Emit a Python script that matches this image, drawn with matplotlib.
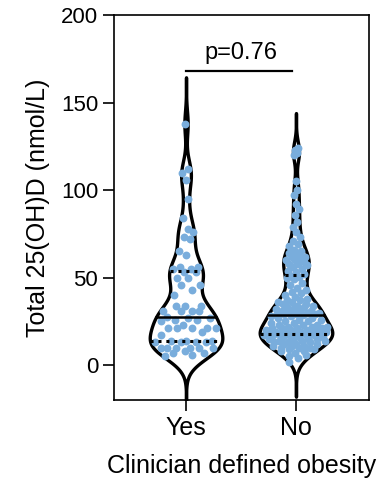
import numpy as np
import matplotlib.pyplot as plt
import matplotlib

matplotlib.rcParams.update({'font.family': 'Liberation Sans', 'font.size': 16})

groups = ["Yes", "No"]
yes_vals = [138, 112, 110, 106, 95, 84, 78, 76, 73, 72,
            65, 63, 56, 56, 55, 55, 53, 53, 50, 50,
            46, 46, 43, 40, 34, 34, 34, 31, 31, 31,
            31, 27.5, 27, 27, 26, 26, 25, 23, 21, 21,
            21, 21, 21, 19, 17, 14, 14, 14, 13, 13,
            13, 13, 10, 10, 10, 10, 10, 10, 8, 7,
            7, 6, 5]
no_vals = [2, 4, 5, 6, 7, 8, 8, 9, 9, 10, 10, 10, 11, 11, 11, 12, 12, 12,
           13, 13, 13, 14, 14, 14, 15, 15, 15, 15, 16, 16, 16, 17, 17, 17, 17.5,
           18, 18, 18, 18, 18.5, 18.5, 19, 19, 19, 19, 20, 20, 20, 20, 21, 21,
           21, 21, 22, 22, 22, 23, 23, 23, 24, 24, 25, 25, 26, 26, 27, 27, 28,
           28, 28.5,
           29, 29, 29.5, 29.5, 30, 30, 30, 31, 31, 31, 32, 32, 33, 33, 34, 34,
           35, 35, 36, 36, 37, 37, 38, 39, 40, 41, 42, 43, 44, 46, 47, 49, 50,
           50.5, 51,
           52, 53, 54, 55, 56, 57, 58, 58, 59, 60, 60, 61, 62, 62, 63, 64, 65,
           66, 68, 69,
           71, 73, 76, 79, 82, 86, 89, 92, 97, 100, 105, 120, 121, 123, 124]
p_text = "p=0.76"

dot_color = "#79addc"
half_w = 0.33


def kde(vals):
    v = np.asarray(vals, float)
    scott = v.std(ddof=1) * len(v) ** (-0.2)
    bw = 0.55 * scott
    grid = np.linspace(v.min() - 2 * scott, v.max() + 2 * scott, 500)
    dens = np.exp(-0.5 * ((grid[:, None] - v[None, :]) / bw) ** 2).sum(axis=1)
    return grid, dens / dens.max() * half_w


fig = plt.figure(figsize=(3.8, 4.88), dpi=100)
ax = fig.add_axes([0.3, 0.18, 0.671, 0.789])

golden = 0.6180339887
for i, vals in enumerate([yes_vals, no_vals]):
    grid, w = kde(vals)
    ax.fill_betweenx(grid, i - w, i + w, facecolor="white", edgecolor="black",
                     lw=2.4, zorder=2)
    v = np.sort(np.asarray(vals, float))
    wv = np.interp(v, grid, w)
    u = ((np.arange(len(v)) * golden) % 1.0) * 2 - 1
    ax.scatter(i + u * wv * 0.92, v, s=32, color=dot_color, lw=0, zorder=3)
    q1, med, q3 = np.percentile(vals, [25, 50, 75])
    for q, ls, lw in [(med, "-", 1.8), (q1, (0, (1, 1.6)), 2.2), (q3, (0, (1, 1.6)), 2.2)]:
        hw = np.interp(q, grid, w)
        ax.plot([i - hw, i + hw], [q, q], color="black", ls=ls, lw=lw, zorder=4)

ax.plot([0, 0.96], [168, 168], color="black", lw=1.6)
ax.text(0.5, 172, p_text, ha="center", va="bottom", fontsize=17)

ax.set_xlim(-0.655, 1.664)
ax.set_ylim(-20, 200)
ax.set_yticks([0, 50, 100, 150, 200])
ax.set_xticks([0, 1])
ax.set_xticklabels(groups, fontsize=18)
for s in ax.spines.values():
    s.set_linewidth(1.2)
ax.tick_params(length=8, width=1.2)
ax.set_ylabel("Total 25(OH)D (nmol/L)", fontsize=18, labelpad=8)
ax.set_xlabel("Clinician defined obesity", fontsize=18, labelpad=10)

plt.savefig("out.png")
